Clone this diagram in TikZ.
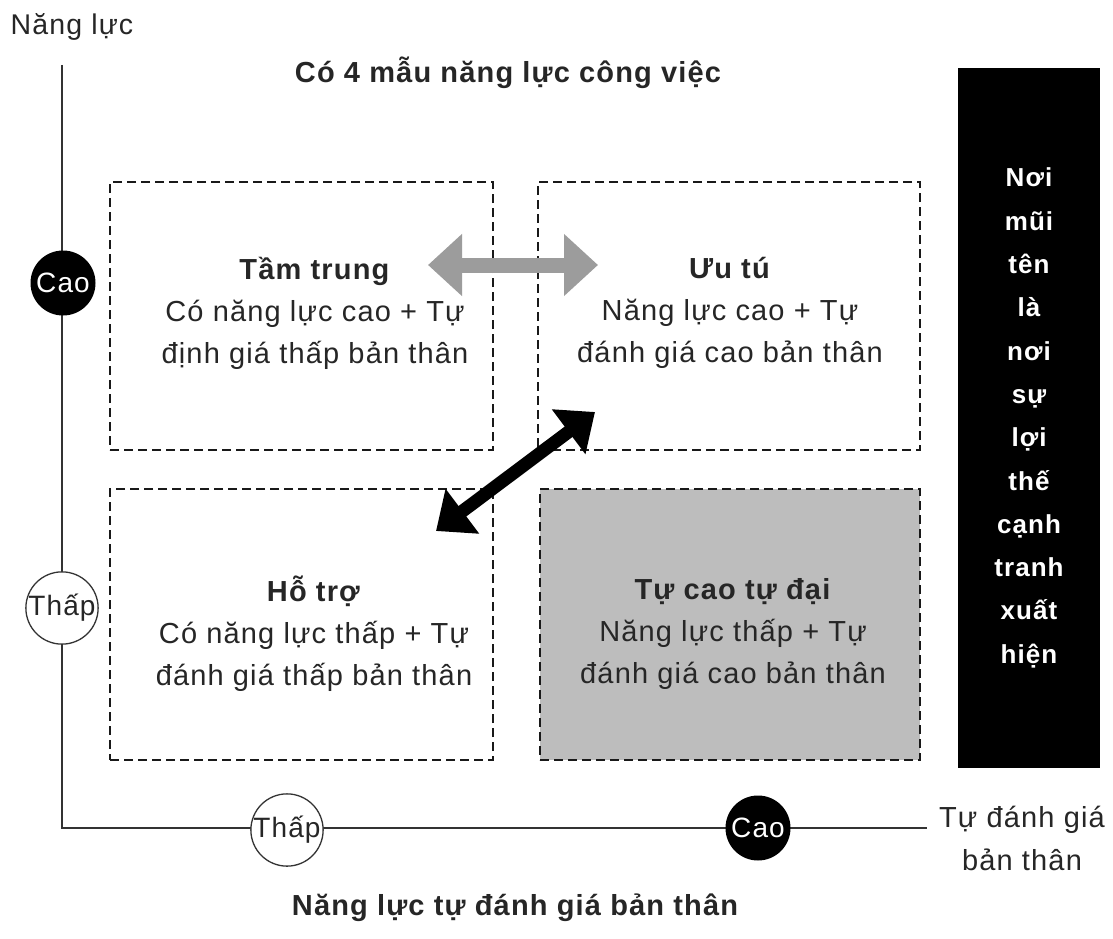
\documentclass[tikz,border=0pt]{standalone}
\usepackage{fontspec}
\setmainfont{Liberation Sans}[LetterSpace=4]
\usetikzlibrary{arrows.meta}

\definecolor{axisgray}{HTML}{333333}
\definecolor{inkgray}{HTML}{262626}
\definecolor{arrowgray}{HTML}{9C9C9C}
\definecolor{quadfill}{HTML}{BDBDBD}

\begin{document}
\begin{tikzpicture}[x=1pt,y=-1pt,
  txt/.style={font=\fontsize{29}{42}\selectfont, align=center, inner sep=0pt, text=inkgray},
  heading/.style={font=\fontsize{29}{42}\selectfont\bfseries, align=center, inner sep=0pt, text=inkgray},
  quad/.style={draw=black!90, dash pattern=on 9pt off 5pt, line width=2.7pt, inner sep=0pt},
  axis/.style={draw=axisgray, line width=2pt},
  hi/.style={circle, fill=black, text=white, minimum size=65pt, inner sep=0pt,
             font=\fontsize{28}{30}\selectfont},
  lo/.style={circle, draw=black!80, line width=1.3pt, fill=white, text=inkgray,
             minimum size=67pt, inner sep=0pt, font=\fontsize{28}{30}\selectfont},
  panel/.style={fill=black, text=white, align=center, inner sep=0pt,
                minimum width=142pt, minimum height=700pt,
                font=\fontsize{26}{43.3}\selectfont\bfseries},
  grayarrow/.style={draw=arrowgray, line width=15pt,
                    {Triangle[length=34pt,width=60pt]}-{Triangle[length=34pt,width=60pt]}},
  blackarrow/.style={draw=black, line width=13pt,
                     {Triangle[length=33pt,width=54pt]}-{Triangle[length=33pt,width=54pt]}}
]
\useasboundingbox[fill=white] (0,0) rectangle (1113,939);

% axes
\coordinate (O) at (62,828);
\coordinate (ytop) at (62,65);
\coordinate (xend) at (927,828);
\draw[axis] (ytop) -- (O) -- (xend);

% axis titles
\node[txt, font=\fontsize{28.5}{30}\selectfont] (ylabel) at (72,27) {Năng lực};
\node[txt, font=\fontsize{29}{43}\selectfont] (xlabel) at (1022,838) {Tự đánh giá\\bản thân};
\node[heading] (title) at (508,73) {Có 4 mẫu năng lực công việc};
\node[heading] (subtitle) at (515,908) {Năng lực tự đánh giá bản thân};

% level markers on the axes
\node[hi] (ycao) at (63,283) {Cao};
\node[lo] (ythap) at (62,608) {Thấp};
\node[lo] (xthap) at (287,830) {Thấp};
\node[hi] (xcao) at (758,828) {Cao};

% the four quadrants
\node[quad, minimum width=383pt, minimum height=268pt] (tl) at (301.5,316) {};
\node[quad, minimum width=382pt, minimum height=268pt] (tr) at (729,316) {};
\node[quad, minimum width=383pt, minimum height=271pt] (bl) at (301.5,624.5) {};
\node[quad, fill=quadfill, minimum width=380pt, minimum height=271pt] (br) at (730,624.5) {};

\node[txt] (tltext) at (315,313) {\textbf{Tầm trung}\\Có năng lực cao + Tự\\định giá thấp bản thân};
\node[txt] (trtext) at (730,313) {\textbf{Ưu tú}\\Năng lực cao + Tự\\đánh giá cao bản thân};
\node[txt] (bltext) at (314,634) {\textbf{Hỗ trợ}\\Có năng lực thấp + Tự\\đánh giá thấp bản thân};
\node[txt] (brtext) at (733,634) {\textbf{Tự cao tự đại}\\Năng lực thấp + Tự\\đánh giá cao bản thân};

% arrows between quadrants
\coordinate (gl) at (428,265);
\coordinate (gr) at (598,265);
\draw[grayarrow] (gl) -- (gr);
\coordinate (bll) at (436,531);
\coordinate (bur) at (595,412);
\draw[blackarrow] (bll) -- (bur);

% side panel
\node[panel] (edge) at (1029,418)
  {Nơi\\mũi\\tên\\là\\nơi\\sự\\lợi\\thế\\cạnh\\tranh\\xuất\\hiện};
\end{tikzpicture}
\end{document}
